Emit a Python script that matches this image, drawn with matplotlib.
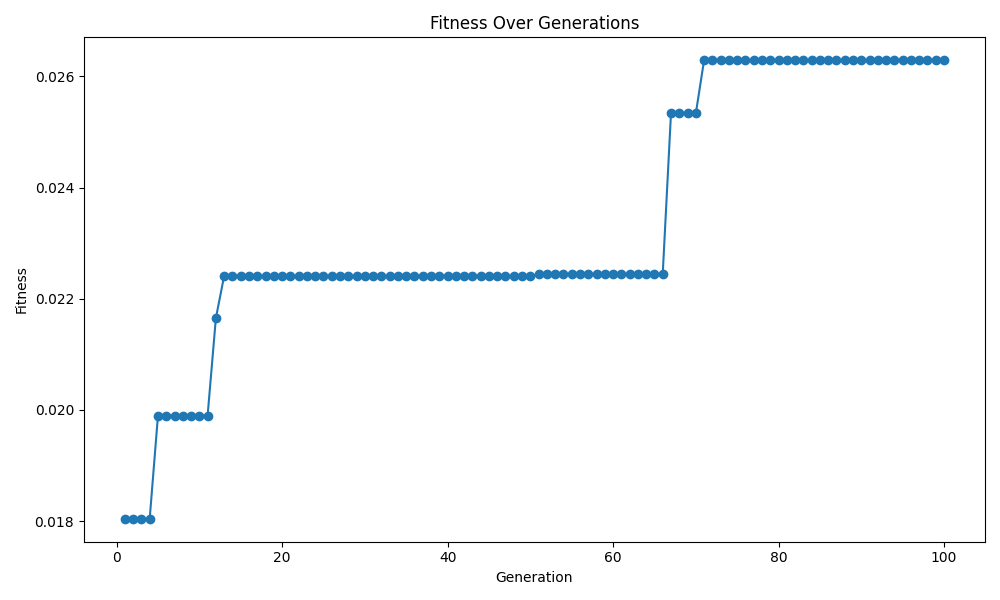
import numpy as np
import matplotlib.pyplot as plt

# best fitness per generation
generations = list(range(1, 101))
fitness = ([0.018043] * 4 + [0.019898] * 7 + [0.021652] + [0.022411] * 38
           + [0.022442] * 16 + [0.025332] * 4 + [0.026289] * 30)

fig, ax = plt.subplots(figsize=(10, 6), dpi=100)
ax.plot(generations, fitness, marker='o')
ax.set_title('Fitness Over Generations')
ax.set_xlabel('Generation')
ax.set_ylabel('Fitness')
plt.tight_layout()
plt.savefig('out.png')
